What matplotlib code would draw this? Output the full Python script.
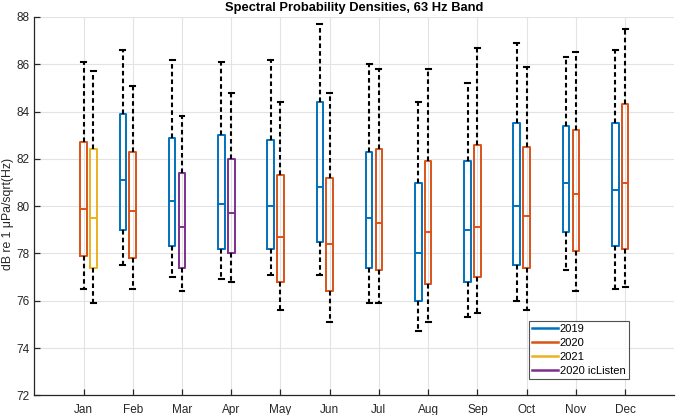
import numpy as np
import matplotlib
matplotlib.use("Agg")
from matplotlib import pyplot as plt
from matplotlib.lines import Line2D

plt.rcParams['font.family'] = ['Liberation Sans', 'DejaVu Sans']

months = ['Jan', 'Feb', 'Mar', 'Apr', 'May', 'Jun',
          'Jul', 'Aug', 'Sep', 'Oct', 'Nov', 'Dec']

# 2019 (Feb..Dec)
m2019 = [2, 3, 4, 5, 6, 7, 8, 9, 10, 11, 12]
lo2019 = [77.5, 77.0, 76.9, 77.1, 77.1, 75.9, 74.7, 75.3, 76.0, 77.3, 76.5]
q1_2019 = [79.0, 78.3, 78.2, 78.2, 78.5, 77.4, 76.0, 76.8, 77.5, 78.9, 78.3]
med2019 = [81.1, 80.2, 80.1, 80.0, 80.8, 79.5, 78.0, 79.0, 80.0, 81.0, 80.7]
q3_2019 = [83.9, 82.9, 83.0, 82.8, 84.4, 82.3, 81.0, 81.9, 83.5, 83.4, 83.5]
hi2019 = [86.6, 86.2, 86.1, 86.2, 87.7, 86.0, 84.4, 85.2, 86.9, 86.3, 86.6]

# 2020
m2020 = [1, 2, 5, 6, 7, 8, 9, 10, 11, 12]
lo2020 = [76.5, 76.5, 75.6, 75.1, 75.9, 75.1, 75.5, 75.6, 76.4, 76.6]
q1_2020 = [77.9, 77.8, 76.8, 76.4, 77.3, 76.7, 77.0, 77.4, 78.1, 78.2]
med2020 = [79.9, 79.8, 78.7, 78.4, 79.3, 78.9, 79.1, 79.6, 80.5, 81.0]
q3_2020 = [82.7, 82.3, 81.3, 81.2, 82.4, 81.9, 82.6, 82.5, 83.2, 84.3]
hi2020 = [86.1, 85.1, 84.4, 84.8, 85.8, 85.8, 86.7, 85.9, 86.5, 87.5]

# 2021
m2021 = [1]
lo2021 = [75.9]
q1_2021 = [77.4]
med2021 = [79.5]
q3_2021 = [82.4]
hi2021 = [85.7]

# 2020 icListen
mIcl = [3, 4]
loIcl = [76.4, 76.8]
q1Icl = [77.4, 78.0]
medIcl = [79.1, 79.7]
q3Icl = [81.4, 82.0]
hiIcl = [83.8, 84.8]

series = [
    ('2019', '#0072BD', -0.2, m2019, lo2019, q1_2019, med2019, q3_2019, hi2019),
    ('2020', '#D95319', 0.0, m2020, lo2020, q1_2020, med2020, q3_2020, hi2020),
    ('2021', '#EDB120', 0.2, m2021, lo2021, q1_2021, med2021, q3_2021, hi2021),
    ('2020 icListen', '#7E2F8E', 0.0, mIcl, loIcl, q1Icl, medIcl, q3Icl, hiIcl),
]

fig = plt.figure(figsize=(6.76, 4.15), dpi=100)
ax = fig.add_axes([34.3 / 676, 19.7 / 415, 640.0 / 676, 378.3 / 415])

handles = []
for name, col, off, mm, lo, q1, med, q3, hi in series:
    stats = []
    for i in range(len(mm)):
        stats.append({'whislo': lo[i], 'q1': q1[i], 'med': med[i],
                      'q3': q3[i], 'whishi': hi[i], 'fliers': []})
    pos = [m + off for m in mm]
    ax.bxp(stats, positions=pos, widths=0.135, showfliers=False,
           manage_ticks=False, capwidths=0.1,
           boxprops=dict(color=col, linewidth=1.4),
           medianprops=dict(color=col, linewidth=1.4),
           whiskerprops=dict(color='black', linewidth=1.5,
                             linestyle=(0, (2.2, 1.5))),
           capprops=dict(color='black', linewidth=1.5))
    handles.append(Line2D([], [], color=col, linewidth=1.8, label=name))

ax.set_xlim(0, 13)
ax.set_ylim(72, 88)
ax.set_xticks(range(1, 13))
ax.set_xticklabels(months)
ax.set_yticks(range(72, 89, 2))
ax.grid(True, color='#e3e3e3', linewidth=0.8)
ax.set_axisbelow(True)
for s in ['top', 'right']:
    ax.spines[s].set_visible(False)
for s in ['left', 'bottom']:
    ax.spines[s].set_color('#262626')
    ax.spines[s].set_linewidth(0.9)
ax.tick_params(direction='in', length=4, width=0.9, color='#262626',
               labelcolor='#262626', labelsize=8.5)
ax.tick_params(axis='x', pad=6)
ax.set_ylabel('dB re 1 \u03bcPa/sqrt(Hz)', fontsize=8.8, color='#262626')
ax.yaxis.set_label_coords(-20.0 / 640, 0.48)
ax.set_title('Spectral Probability Densities, 63 Hz Band', fontsize=9.3,
             fontweight='bold', pad=4)

leg = ax.legend(handles=handles, loc='lower left',
                bbox_to_anchor=(529 / 676, (415 - 379.3) / 415),
                bbox_transform=fig.transFigure,
                fontsize=8, frameon=True, fancybox=False,
                handlelength=2.3, handletextpad=0.15, borderpad=0.3,
                labelspacing=0.35, borderaxespad=0)
leg.get_frame().set_edgecolor('#262626')
leg.get_frame().set_linewidth(0.8)

fig.savefig('out.png', dpi=100)
